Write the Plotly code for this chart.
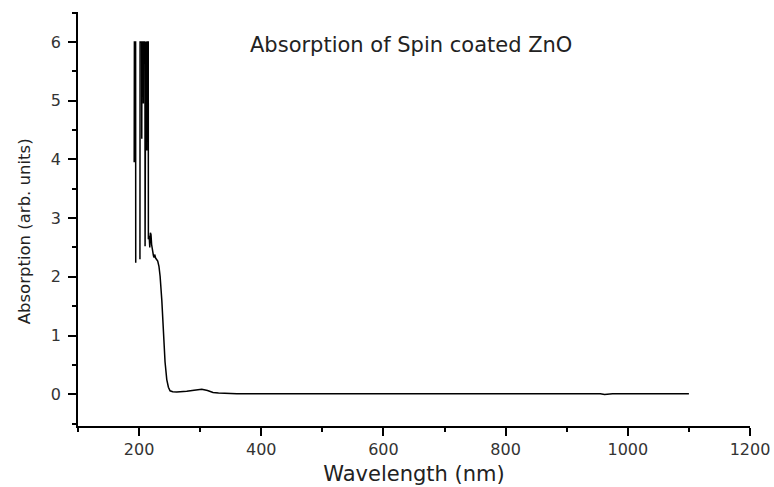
import plotly.graph_objects as go

# UV-vis spectrum (nm, arb. units); None marks a break in the trace
wavelength = [192.0, 192.3, 194.3, 194.5, 198.0,
              201.4, 201.6, 204.2, 204.4, 204.6, 206.8, 207.0, 207.2, 209.6, 209.8,
              210.0, 210.8, 211.0, 211.2, 212.4, 212.6, 212.8, 215.0, 215.2, 216.5,
              217.5, 218.5, 219.5, 220.5, 222.0, 223.5, 224.5, 225.5, 227.0, 229.0,
              230.5, 232.5, 234.4, 237.2, 239.8, 242.5, 245.3, 248.0, 250.7, 255.0,
              261.7, 270.0, 278.0, 290.0, 302.6, 312.0, 321.0, 330.0, 338.0, 360.0,
              400.0, 500.0, 600.0, 700.0, 800.0, 900.0, 955.0, 962.0, 968.0, 975.0,
              1000.0, 1100.0]
absorption = [3.95, 6.0, 6.0, 2.24, None,
              2.3, 6.0, 6.0, 4.35, 6.0, 6.0, 4.95, 6.0, 6.0, 2.52,
              6.0, 6.0, 4.45, 6.0, 6.0, 4.15, 6.0, 6.0, 2.64, 2.7,
              2.5, 2.75, 2.72, 2.55, 2.4, 2.36, 2.33, 2.38, 2.32, 2.3,
              2.27, 2.18, 2.01, 1.6, 0.93, 0.55, 0.25, 0.12, 0.06, 0.045,
              0.04, 0.045, 0.05, 0.07, 0.085, 0.065, 0.03, 0.02, 0.015, 0.01,
              0.01, 0.01, 0.01, 0.01, 0.01, 0.01, 0.01, -0.005, 0.0, 0.01,
              0.01, 0.01]

x_ticks = [200, 400, 600, 800, 1000, 1200]
y_ticks = [0, 1, 2, 3, 4, 5, 6]

FONT = "DejaVu Sans, Verdana, sans-serif"

fig = go.Figure()
fig.add_trace(go.Scatter(x=wavelength, y=absorption, mode="lines",
                         line=dict(color="black", width=1.5),
                         connectgaps=False, showlegend=False))

axis_font = dict(family=FONT, size=16, color="#333333")

fig.update_xaxes(range=[100, 1200], tickvals=x_ticks, ticks="outside", ticklen=8,
                 tickwidth=1.5, tickcolor="black", showline=True, linecolor="black",
                 linewidth=1.5, showgrid=False, zeroline=False, tickfont=axis_font,
                 automargin=False,
                 minor=dict(dtick=100, ticks="outside", ticklen=4, tickwidth=1.5,
                            tickcolor="black", showgrid=False),
                 title=dict(text="Wavelength (nm)", standoff=8,
                            font=dict(family=FONT, size=21, color="#222222")))
fig.update_yaxes(range=[-0.54, 6.51], tickvals=y_ticks, ticks="outside", ticklen=8,
                 tickwidth=1.5, tickcolor="black", showline=True, linecolor="black",
                 linewidth=1.5, showgrid=False, zeroline=False, tickfont=axis_font,
                 automargin=False, ticklabelstandoff=4,
                 minor=dict(dtick=0.5, ticks="outside", ticklen=4, tickwidth=1.5,
                            tickcolor="black", showgrid=False))

# y title as an annotation so it can sit a little below the plot centre, as in the original
fig.add_annotation(text="Absorption (arb. units)", xref="paper", yref="paper",
                   x=-0.080, y=0.471, textangle=-90, xanchor="center", yanchor="middle",
                   showarrow=False, font=dict(family=FONT, size=16.5, color="#222222"))

fig.add_annotation(text="Absorption of Spin coated ZnO", xref="paper", yref="paper",
                   x=0.496, y=0.92, xanchor="center", yanchor="middle", showarrow=False,
                   font=dict(family=FONT, size=21, color="#222222"))

fig.update_layout(width=774, height=487, plot_bgcolor="white", paper_bgcolor="white",
                  margin=dict(l=78, r=24, t=12, b=61))

# drop the default 8px page margin so the figure sits flush in the window
fig.write_html("out.html", config={"displayModeBar": False},
               post_script="document.body.style.margin = '0px';")
